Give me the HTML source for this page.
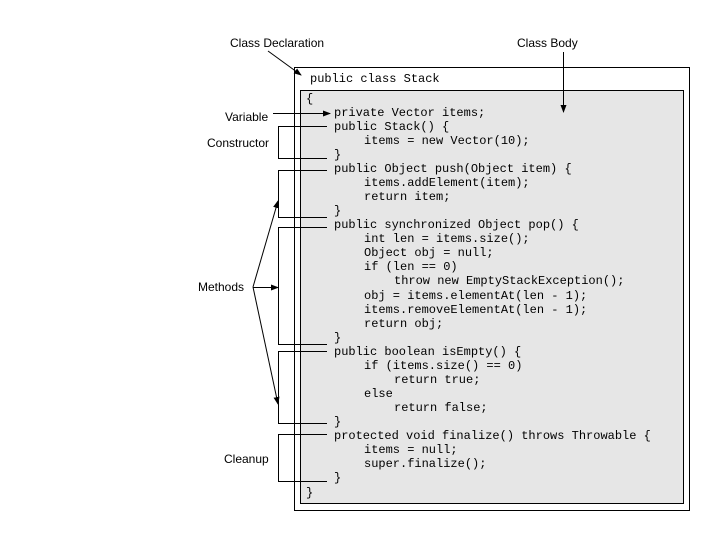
<!DOCTYPE html>
<html><head><meta charset="utf-8"><style>
html,body{margin:0;padding:0;background:#fff;}
svg{display:block;}
.l{font-family:"Liberation Sans",sans-serif;font-size:12px;fill:#000;}
.c{font-family:"Liberation Mono",monospace;font-size:12px;fill:#000;}
</style></head><body>
<svg width="720" height="540" viewBox="0 0 720 540" xmlns="http://www.w3.org/2000/svg">
<defs><marker id="a" markerWidth="8" markerHeight="8" refX="7" refY="4" orient="auto" markerUnits="userSpaceOnUse"><path d="M0,1 L8,4 L0,7 Z" fill="#000"/></marker></defs>
<rect x="294.5" y="67.5" width="395" height="443" fill="#fff" stroke="#000"/>
<rect x="300.5" y="90.5" width="383" height="413" fill="#e6e6e6" stroke="#000"/>
<text class="l" x="230" y="47">Class Declaration</text>
<text class="l" x="517" y="47">Class Body</text>
<text class="l" x="225" y="121">Variable</text>
<text class="l" x="207" y="147">Constructor</text>
<text class="l" x="198" y="291">Methods</text>
<text class="l" x="224" y="463">Cleanup</text>
<g stroke="#000" stroke-width="1" fill="none">
<line x1="268" y1="51" x2="301" y2="75" marker-end="url(#a)"/>
<line x1="563.5" y1="52" x2="563.5" y2="112" marker-end="url(#a)"/>
<line x1="273" y1="113.5" x2="330" y2="113.5" marker-end="url(#a)"/>
<polyline points="327,126.5 278.5,126.5 278.5,158.5 327,158.5"/>
<polyline points="327,170.5 278.5,170.5 278.5,217.5 327,217.5"/>
<polyline points="327,227.5 278.5,227.5 278.5,344.5 327,344.5"/>
<polyline points="327,351.5 278.5,351.5 278.5,423.5 327,423.5"/>
<polyline points="327,434.5 278.5,434.5 278.5,481.5 327,481.5"/>
<line x1="253" y1="287" x2="278" y2="201" marker-end="url(#a)"/>
<line x1="253" y1="287.5" x2="278" y2="287.5" marker-end="url(#a)"/>
<line x1="253" y1="287" x2="278" y2="404" marker-end="url(#a)"/>
</g>
<text class="c" x="310" y="82" xml:space="preserve">public class Stack</text>
<g class="c" xml:space="preserve">
<text class="c" x="306" y="102">{</text>
<text class="c" x="334" y="116">private Vector items;</text>
<text class="c" x="334" y="130">public Stack() {</text>
<text class="c" x="364" y="144">items = new Vector(10);</text>
<text class="c" x="334" y="158">}</text>
<text class="c" x="334" y="172">public Object push(Object item) {</text>
<text class="c" x="364" y="186">items.addElement(item);</text>
<text class="c" x="364" y="200">return item;</text>
<text class="c" x="334" y="214">}</text>
<text class="c" x="334" y="228">public synchronized Object pop() {</text>
<text class="c" x="364" y="242">int len = items.size();</text>
<text class="c" x="364" y="256">Object obj = null;</text>
<text class="c" x="364" y="270">if (len == 0)</text>
<text class="c" x="394" y="284">throw new EmptyStackException();</text>
<text class="c" x="364" y="299">obj = items.elementAt(len - 1);</text>
<text class="c" x="364" y="313">items.removeElementAt(len - 1);</text>
<text class="c" x="364" y="327">return obj;</text>
<text class="c" x="334" y="341">}</text>
<text class="c" x="334" y="355">public boolean isEmpty() {</text>
<text class="c" x="364" y="369">if (items.size() == 0)</text>
<text class="c" x="394" y="383">return true;</text>
<text class="c" x="364" y="397">else</text>
<text class="c" x="394" y="411">return false;</text>
<text class="c" x="334" y="425">}</text>
<text class="c" x="334" y="439">protected void finalize() throws Throwable {</text>
<text class="c" x="364" y="453">items = null;</text>
<text class="c" x="364" y="467">super.finalize();</text>
<text class="c" x="334" y="481">}</text>
<text class="c" x="306" y="496">}</text>
</g>
</svg>
</body></html>
